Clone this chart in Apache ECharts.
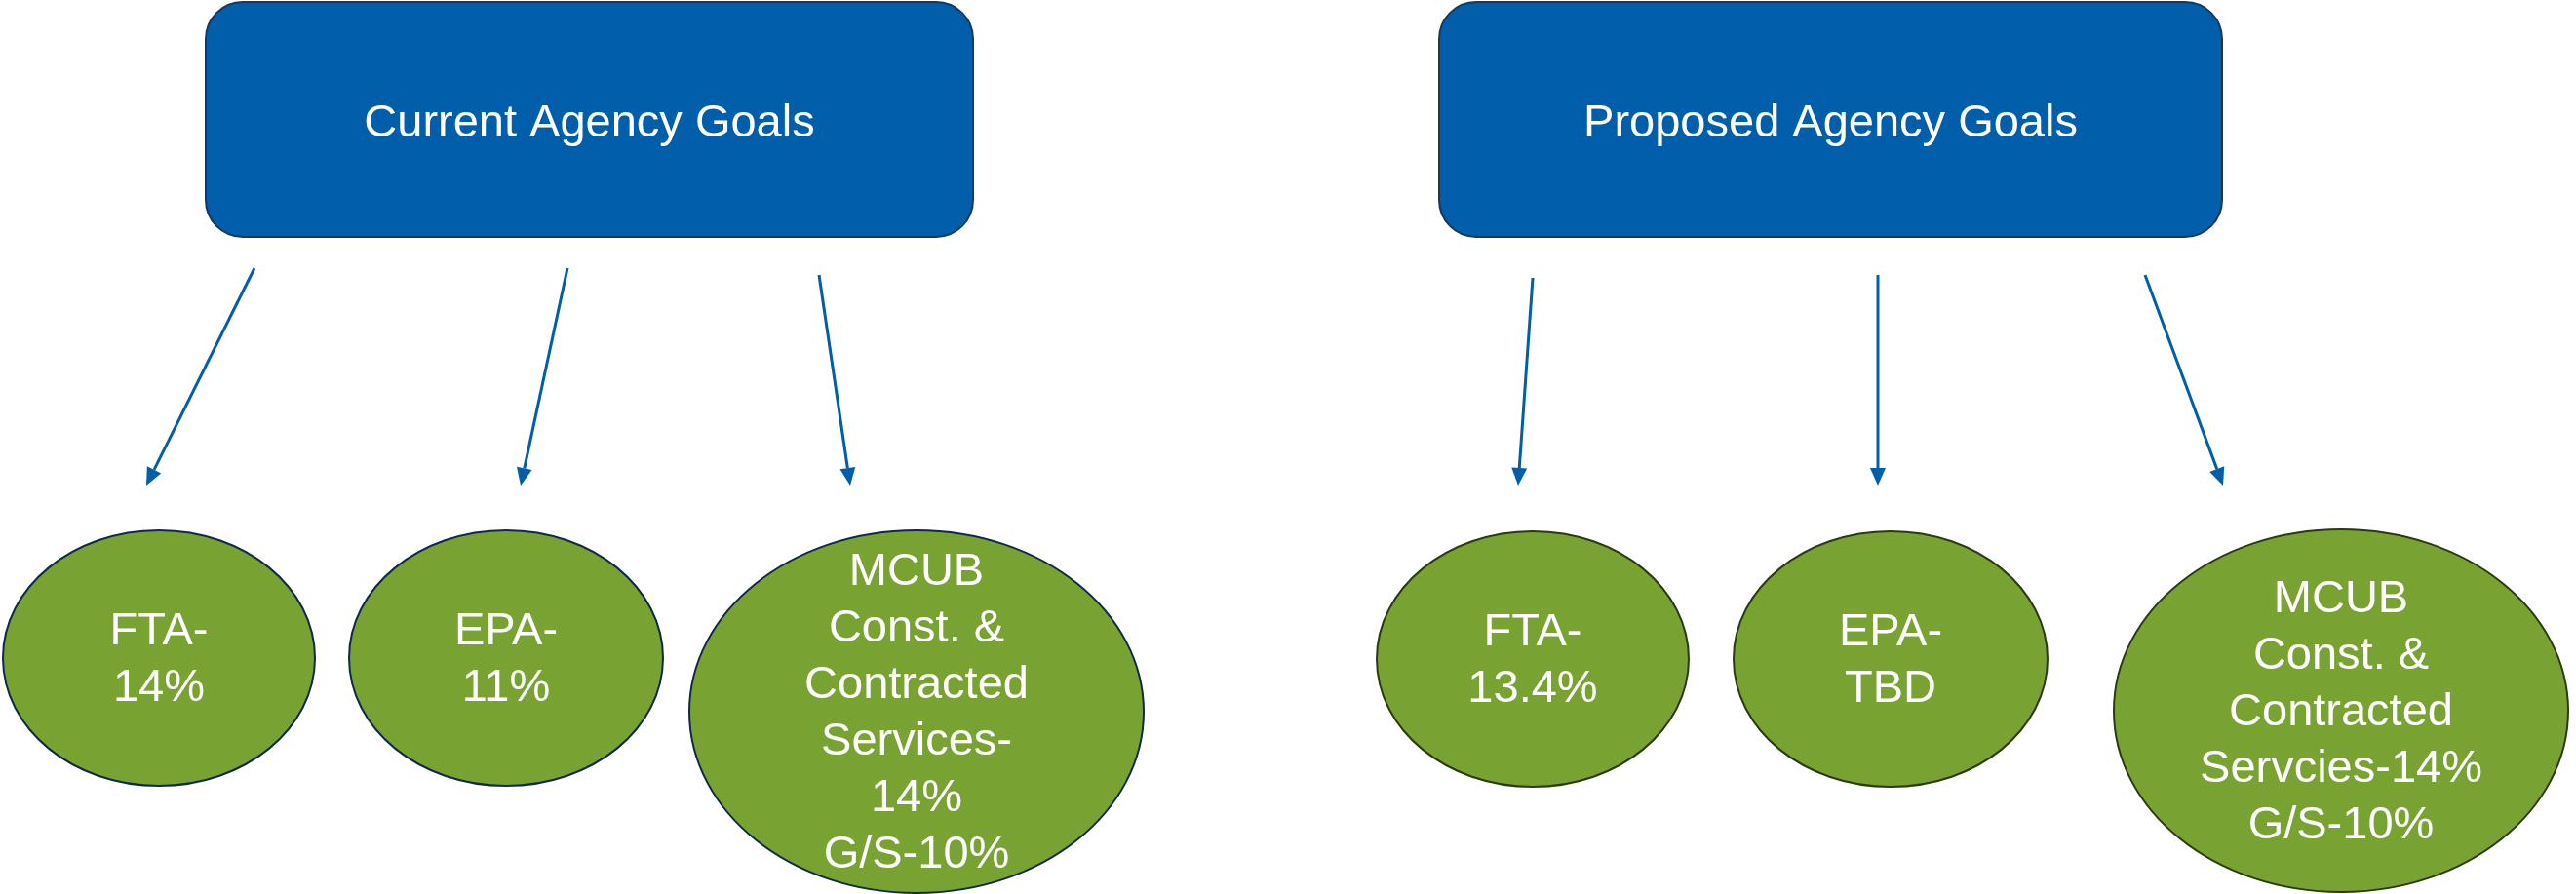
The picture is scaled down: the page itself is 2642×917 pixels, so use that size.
<!DOCTYPE html>
<html>
<head>
<meta charset="utf-8">
<title>Agency Goals</title>
<script src="https://cdn.jsdelivr.net/npm/echarts@6/dist/echarts.min.js"></script>
<style>
  html, body { margin: 0; padding: 0; background: #ffffff; }
  #chart { width: 2642px; height: 917px; }
</style>
</head>
<body>
<div id="chart"></div>
<script>
// content
const titles = ['Current Agency Goals', 'Proposed Agency Goals'];
const currentGoals = ['FTA-\n14%', 'EPA-\n11%', 'MCUB\nConst. &\nContracted\nServices-\n14%\nG/S-10%'];
const proposedGoals = ['FTA-\n13.4%', 'EPA-\nTBD', 'MCUB\nConst. &\nContracted\nServcies-14%\nG/S-10%'];

// layout (page pixels, mapped through hidden value axes)
const titleBoxes = [[211, 2, 998, 243], [1476, 2, 2279, 243]];
const currentCenters = [[163, 675], [519, 675], [940, 730]];
const proposedCenters = [[1572, 676], [1939, 676], [2401, 729]];
const goalRadii = [[160, 131], [161, 131], [233, 186]];
const currentArrows = [[261, 275, 150, 498], [582, 275, 534, 498], [840, 282, 872, 498]];
const proposedArrows = [[1572, 285, 1557, 498], [1926, 282, 1926, 498], [2200, 282, 2280, 498]];

const BLUE = '#005eaa';
const GREEN = '#78a232';
const FONT = '"Liberation Sans", Arial, sans-serif';

const chart = echarts.init(document.getElementById('chart'));

function boxItem(params, api) {
  const p0 = api.coord([api.value(0), api.value(1)]);
  const p1 = api.coord([api.value(2), api.value(3)]);
  return {
    type: 'rect',
    shape: { x: p0[0], y: p0[1], width: p1[0] - p0[0], height: p1[1] - p0[1], r: 38 },
    style: { fill: BLUE, stroke: '#17375e', lineWidth: 2 },
    textContent: {
      style: { text: titles[params.dataIndex], fill: '#ffffff', fontSize: 47, fontFamily: FONT }
    },
    textConfig: { position: 'inside', offset: [0, 5] }
  };
}

function goalSeries(centers, labels, border) {
  return {
    type: 'custom',
    coordinateSystem: 'cartesian2d',
    clip: false,
    silent: true,
    data: centers.map((c, i) => [c[0], c[1], goalRadii[i][0], goalRadii[i][1]]),
    encode: { x: 0, y: 1 },
    renderItem: (params, api) => {
      const c = api.coord([api.value(0), api.value(1)]);
      return {
        type: 'ellipse',
        shape: { cx: c[0], cy: c[1], rx: api.value(2), ry: api.value(3) },
        style: { fill: GREEN, stroke: border, lineWidth: 2 },
        textContent: {
          style: {
            text: labels[params.dataIndex], fill: '#ffffff', fontSize: 47,
            fontFamily: FONT, lineHeight: 58, align: 'center'
          }
        },
        textConfig: { position: 'inside', offset: [0, 2] }
      };
    }
  };
}

function arrowSeries(arrows) {
  return {
    type: 'custom',
    coordinateSystem: 'cartesian2d',
    clip: false,
    silent: true,
    data: arrows,
    encode: { x: [0, 2], y: [1, 3] },
    renderItem: (params, api) => {
      const a = api.coord([api.value(0), api.value(1)]);
      const b = api.coord([api.value(2), api.value(3)]);
      const dx = b[0] - a[0], dy = b[1] - a[1];
      const len = Math.sqrt(dx * dx + dy * dy);
      const ux = dx / len, uy = dy / len;
      const headLen = 18, headHalf = 8;
      const base = [b[0] - ux * headLen, b[1] - uy * headLen];
      return {
        type: 'group',
        children: [
          {
            type: 'line',
            shape: { x1: a[0], y1: a[1], x2: base[0], y2: base[1] },
            style: { stroke: BLUE, lineWidth: 3 }
          },
          {
            type: 'polygon',
            shape: {
              points: [
                b,
                [base[0] - uy * headHalf, base[1] + ux * headHalf],
                [base[0] + uy * headHalf, base[1] - ux * headHalf]
              ]
            },
            style: { fill: BLUE }
          }
        ]
      };
    }
  };
}

chart.setOption({
  animation: false,
  backgroundColor: '#ffffff',
  grid: { left: 0, right: 0, top: 0, bottom: 0 },
  xAxis: { type: 'value', min: 0, max: 2642, show: false },
  yAxis: { type: 'value', min: 0, max: 917, inverse: true, show: false },
  series: [
    {
      type: 'custom',
      coordinateSystem: 'cartesian2d',
      clip: false,
      silent: true,
      data: titleBoxes,
      encode: { x: [0, 2], y: [1, 3] },
      renderItem: boxItem
    },
    arrowSeries(currentArrows),
    arrowSeries(proposedArrows),
    goalSeries(currentCenters, currentGoals, '#10294a'),
    goalSeries(proposedCenters, proposedGoals, '#2b3a12')
  ]
});
</script>
</body>
</html>
